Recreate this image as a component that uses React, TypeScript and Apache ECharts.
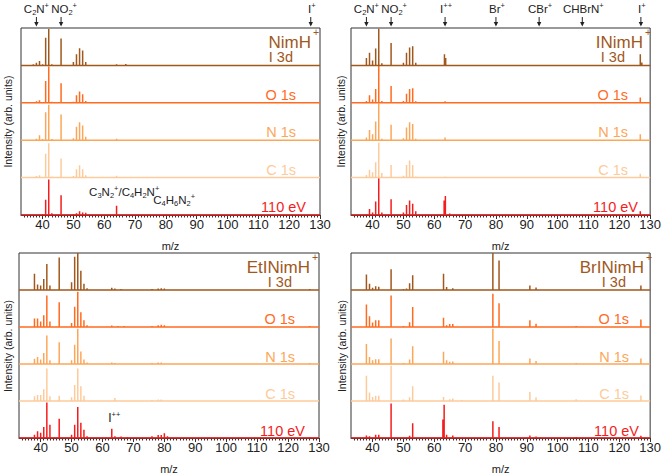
import React, { useEffect, useRef } from 'react';
import * as echarts from 'echarts';

const X_MIN = 33;
const X_MAX = 130;
const majorTicks = [40, 50, 60, 70, 80, 90, 100, 110, 120, 130];
const rowLabels = ['I 3d', 'O 1s', 'N 1s', 'C 1s', '110 eV'];
const rowColors = ['#a0581d', '#ff6b1f', '#fba75a', '#fdcb9b', '#f41d1d'];
const panelTitles = ['NimH', 'INimH', 'EtINimH', 'BrINimH'];

// [m/z, relative height within its row]
const nimhI3d = [[37, 0.03], [38, 0.07], [39, 0.12], [40, 0.03], [41, 0.74], [42, 0.97], [43, 0.03], [46, 0.72], [50, 0.09], [51, 0.3], [52, 0.46], [53, 0.4], [54, 0.09], [56, 0.02], [64, 0.03], [67, 0.04]];
const nimhO1s = [[38, 0.04], [39, 0.07], [41, 0.58], [42, 0.97], [43, 0.03], [46, 0.52], [50, 0.03], [51, 0.2], [52, 0.3], [53, 0.23], [54, 0.05], [64, 0.02]];
const nimhN1s = [[38, 0.04], [39, 0.13], [40, 0.03], [41, 0.75], [42, 0.95], [43, 0.03], [46, 0.69], [50, 0.05], [51, 0.36], [52, 0.48], [53, 0.39], [54, 0.09], [64, 0.04], [65, 0.02], [66, 0.02]];
const nimhC1s = [[38, 0.04], [39, 0.06], [41, 0.64], [42, 0.92], [43, 0.03], [46, 0.51], [50, 0.04], [51, 0.22], [52, 0.33], [53, 0.22], [54, 0.06], [64, 0.05]];
const nimh110 = [[40, 0.03], [41, 0.41], [42, 0.95], [43, 0.05], [46, 0.53], [50, 0.03], [51, 0.05], [52, 0.1], [53, 0.07], [54, 0.06], [64, 0.25]];

const inimhI3d = [[38, 0.2], [39, 0.34], [40, 0.13], [41, 0.45], [42, 0.98], [43, 0.06], [46, 0.6], [50, 0.07], [51, 0.34], [52, 0.48], [53, 0.51], [54, 0.07], [63.3, 0.3], [63.7, 0.2], [126.8, 0.3], [127.3, 0.08]];
const inimhO1s = [[38, 0.05], [39, 0.2], [40, 0.09], [41, 0.37], [42, 1.0], [43, 0.05], [46, 0.45], [50, 0.05], [51, 0.24], [52, 0.37], [53, 0.39], [54, 0.04], [63.5, 0.04], [126.8, 0.14]];
const inimhN1s = [[38, 0.07], [39, 0.27], [40, 0.16], [41, 0.5], [42, 0.98], [43, 0.04], [46, 0.41], [50, 0.05], [51, 0.34], [52, 0.48], [53, 0.43], [54, 0.04], [63.5, 0.07], [126.8, 0.16]];
const inimhC1s = [[38, 0.07], [39, 0.21], [40, 0.14], [41, 0.41], [42, 0.93], [43, 0.12], [46, 0.34], [50, 0.05], [51, 0.34], [52, 0.46], [53, 0.34], [54, 0.03], [63.5, 0.03], [126.8, 0.1]];
const inimh110 = [[38, 0.03], [39, 0.16], [40, 0.07], [41, 0.36], [42, 0.98], [43, 0.07], [46, 0.42], [50, 0.07], [51, 0.27], [52, 0.39], [53, 0.3], [54, 0.1], [63.2, 0.39], [63.6, 0.51], [65, 0.04], [79, 0.02], [81, 0.02], [126.8, 0.1]];

const etinimhI3d = [[38, 0.44], [39, 0.15], [40, 0.12], [41, 0.3], [42, 0.7], [43, 0.12], [46, 0.88], [50, 0.21], [51, 0.9], [52, 1.0], [53, 0.52], [54, 0.17], [55, 0.05], [63, 0.06], [64, 0.04], [66, 0.03], [76, 0.03], [78, 0.04], [79, 0.05], [80, 0.04], [127, 0.03]];
const etinimhO1s = [[38, 0.23], [39, 0.23], [40, 0.15], [41, 0.32], [42, 0.85], [43, 0.15], [46, 0.67], [50, 0.11], [51, 0.55], [52, 0.95], [53, 0.4], [54, 0.18], [55, 0.05], [63, 0.04], [65, 0.03], [67, 0.03], [76, 0.03], [78, 0.05], [79, 0.06], [80, 0.05], [127, 0.03]];
const etinimhN1s = [[38, 0.14], [39, 0.19], [40, 0.12], [41, 0.3], [42, 0.77], [43, 0.1], [46, 0.59], [50, 0.1], [51, 0.52], [52, 0.95], [53, 0.34], [54, 0.12], [55, 0.04], [63, 0.04], [64, 0.03], [76, 0.03], [78, 0.04], [79, 0.04], [127, 0.03]];
const etinimhC1s = [[38, 0.13], [39, 0.16], [40, 0.16], [41, 0.32], [42, 0.88], [43, 0.13], [46, 0.14], [50, 0.1], [51, 0.43], [52, 0.88], [53, 0.4], [54, 0.14], [64, 0.08], [76, 0.03], [78, 0.04], [79, 0.04]];
const etinimh110 = [[38, 0.09], [39, 0.18], [40, 0.14], [41, 0.3], [42, 0.96], [43, 0.36], [46, 0.52], [50, 0.09], [51, 0.36], [52, 0.84], [53, 0.41], [54, 0.22], [55, 0.05], [63, 0.25], [64, 0.05], [66, 0.04], [68, 0.03], [76, 0.05], [78, 0.08], [79, 0.08], [80, 0.13], [81, 0.05], [127, 0.03]];

const brinimhI3d = [[38, 0.42], [39, 0.17], [40, 0.06], [41, 0.1], [42, 0.09], [46, 0.56], [50, 0.03], [51, 0.04], [52, 0.18], [53, 0.4], [63, 0.44], [64, 0.08], [66, 0.05], [79, 1.0], [81, 0.8], [91, 0.12], [93, 0.07], [127, 0.12]];
const brinimhO1s = [[38, 0.61], [39, 0.29], [40, 0.12], [41, 0.18], [42, 0.18], [46, 0.85], [50, 0.03], [52, 0.13], [53, 0.54], [63, 0.25], [64, 0.05], [65, 0.08], [66, 0.08], [69, 0.02], [79, 0.9], [81, 0.64], [91, 0.18], [93, 0.09], [106, 0.03], [127, 0.2]];
const brinimhN1s = [[38, 0.54], [39, 0.19], [40, 0.1], [41, 0.13], [42, 0.13], [46, 0.69], [50, 0.03], [52, 0.12], [53, 0.48], [63, 0.33], [64, 0.1], [65, 0.06], [66, 0.07], [79, 0.95], [81, 0.62], [91, 0.15], [93, 0.08], [106, 0.03], [108, 0.02], [127, 0.15]];
const brinimhC1s = [[38, 0.68], [39, 0.23], [40, 0.11], [41, 0.14], [42, 0.14], [46, 0.95], [50, 0.04], [52, 0.1], [53, 0.4], [63, 0.11], [65, 0.05], [66, 0.07], [69, 0.03], [79, 0.68], [81, 0.5], [91, 0.24], [93, 0.1], [106, 0.05], [127, 0.15]];
const brinimh110 = [[38, 0.07], [39, 0.05], [41, 0.09], [42, 0.09], [46, 0.93], [52, 0.06], [53, 0.4], [62.8, 0.5], [63.2, 0.9], [64, 0.09], [66, 0.07], [79, 0.45], [81, 0.3], [91, 0.07], [93, 0.04], [106, 0.03], [127, 0.06]];

const panelSpectra = [
  [nimhI3d, nimhO1s, nimhN1s, nimhC1s, nimh110],
  [inimhI3d, inimhO1s, inimhN1s, inimhC1s, inimh110],
  [etinimhI3d, etinimhO1s, etinimhN1s, etinimhC1s, etinimh110],
  [brinimhI3d, brinimhO1s, brinimhN1s, brinimhC1s, brinimh110],
];

// top annotations: [m/z, label] ({s|..} subscript, {p|..} superscript)
const topMarksLeft: [number, string][] = [[38, 'C{s|2}N{p|+}'], [46, 'NO{s|2}{p|+}'], [127, 'I{p|+}']];
const topMarksRight: [number, string][] = [[38, 'C{s|2}N{p|+}'], [46, 'NO{s|2}{p|+}'], [63.5, 'I{p|++}'], [80, 'Br{p|+}'], [94, 'CBr{p|+}'], [108, 'CHBrN{p|+}'], [127, 'I{p|+}']];
const labelShift: Record<string, number> = { 'C{s|2}N{p|+}': -1, 'NO{s|2}{p|+}': 2 };

const FONT = 'Liberation Sans, Arial, DejaVu Sans, sans-serif';
const grids = [
  { left: 21, top: 28, width: 299, height: 187 },
  { left: 351, top: 28, width: 301, height: 187 },
  { left: 19, top: 253, width: 300, height: 186 },
  { left: 351, top: 253, width: 302, height: 186 },
];
const yLabelX = [8, 341, 8, 342];

function spectrum(peaks: number[][], offset: number) {
  const pts: number[][] = [[X_MIN, offset]];
  peaks.forEach(([m, h]) => {
    pts.push([m, offset], [m, offset + h], [m, offset]);
  });
  pts.push([X_MAX, offset]);
  return pts;
}

function txt(x: number, y: number, text: string, fontSize: number, fill: string, align = 'center', vAlign = 'middle', extra: any = {}, styleExtra: any = {}) {
  return {
    type: 'text',
    x,
    y,
    silent: true,
    z: 100,
    ...extra,
    style: {
      text,
      fill,
      fontSize,
      fontFamily: FONT,
      align,
      verticalAlign: vAlign,
      textAlign: align,
      textVerticalAlign: vAlign,
      ...styleExtra,
    },
  };
}

function richStyle(subSize: number, fill: string) {
  return {
    lineHeight: 15,
    rich: {
      s: { fontSize: subSize, lineHeight: subSize + 1, verticalAlign: 'bottom', fill, fontFamily: FONT },
      p: { fontSize: subSize, lineHeight: subSize + 1, verticalAlign: 'top', fill, fontFamily: FONT },
    },
  };
}

export default function App() {
  const ref = useRef<HTMLDivElement>(null);
  useEffect(() => {
    if (!ref.current) return;
    const chart = echarts.init(ref.current, null, { renderer: 'svg' });
    const minorTicks: number[] = [];
    for (let v = 34; v <= 130; v++) if (v % 10 !== 0) minorTicks.push(v);

    const xAxis: any[] = [];
    const yAxis: any[] = [];
    const series: any[] = [];
    grids.forEach((g, p) => {
      xAxis.push({
        gridIndex: p,
        type: 'value',
        min: X_MIN,
        max: X_MAX,
        position: 'bottom',
        axisLine: { show: true, lineStyle: { color: '#333', width: 1 } },
        axisTick: { show: true, customValues: majorTicks, length: 4, lineStyle: { color: '#333', width: 1 } },
        axisLabel: { show: true, customValues: majorTicks, margin: 3, fontSize: 13, color: '#222', fontFamily: FONT },
        splitLine: { show: false },
        name: 'm/z',
        nameLocation: 'middle',
        nameGap: 25,
        nameTextStyle: { fontSize: 11, color: '#222', fontFamily: FONT },
      });
      xAxis.push({
        gridIndex: p,
        type: 'value',
        min: X_MIN,
        max: X_MAX,
        position: 'bottom',
        axisLine: { show: false },
        axisTick: { show: true, customValues: minorTicks, length: 2.5, lineStyle: { color: '#333', width: 1 } },
        axisLabel: { show: false },
        splitLine: { show: false },
      });
      yAxis.push({ gridIndex: p, type: 'value', min: 0, max: 5, show: false });
      panelSpectra[p].forEach((peaks, r) => {
        series.push({
          type: 'line',
          xAxisIndex: 2 * p,
          yAxisIndex: p,
          data: spectrum(peaks, 4 - r),
          symbol: 'none',
          showSymbol: false,
          silent: true,
          z: 3 + (5 - r),
          lineStyle: { color: rowColors[r], width: 1.5 },
        });
      });
    });

    chart.setOption({
      animation: false,
      grid: grids.map((g) => ({ ...g, show: true, borderColor: '#333', borderWidth: 1, backgroundColor: 'transparent' })),
      xAxis,
      yAxis,
      series,
    });

    const graphic: any[] = [];
    grids.forEach((g, p) => {
      const right = g.left + g.width;
      const rowH = g.height / 5;
      graphic.push(txt(yLabelX[p], g.top + g.height / 2, 'Intensity (arb. units)', 10.5, '#222', 'center', 'middle', { rotation: Math.PI / 2 }));
      graphic.push(txt(right - 9, g.top + 14, panelTitles[p], 17, rowColors[0], 'right', 'middle'));
      graphic.push(txt(right - 4, g.top + 3.5, '+', 10.5, rowColors[0], 'center', 'middle'));
      const rightOff = [27, 24, 24, 24, 14];
      rowLabels.forEach((lab, r) => {
        const base = g.top + rowH * (r + 1);
        graphic.push(txt(right - rightOff[r], base - 8, lab, 14.5, rowColors[r], 'right', 'middle'));
      });
    });

    const addMarks = (p: number, marks: [number, string][]) => {
      marks.forEach(([m, lab]) => {
        const pt = chart.convertToPixel({ gridIndex: p } as any, [m, 5]) as number[];
        const x = pt[0];
        const top = pt[1];
        graphic.push(txt(x + 1 + (labelShift[lab] || 0), top - 19, lab, 11.5, '#222', 'center', 'middle', {}, richStyle(7.5, '#222')));
        graphic.push({ type: 'line', silent: true, shape: { x1: x, y1: top - 11, x2: x, y2: top - 3 }, style: { stroke: '#222', lineWidth: 1 } });
        graphic.push({ type: 'polygon', silent: true, shape: { points: [[x - 2.2, top - 6], [x + 2.2, top - 6], [x, top - 1.5]] }, style: { fill: '#222' } });
      });
    };
    addMarks(0, topMarksLeft);
    addMarks(1, topMarksRight);

    // in-panel annotations
    const a1 = chart.convertToPixel({ gridIndex: 0 } as any, [55.1, 0.62]) as number[];
    graphic.push(txt(a1[0], a1[1], 'C{s|3}N{s|2}{p|+}/C{s|4}H{s|2}N{p|+}', 11.5, '#222', 'left', 'middle', {}, richStyle(7.5, '#222')));
    const a2 = chart.convertToPixel({ gridIndex: 0 } as any, [75.9, 0.4]) as number[];
    graphic.push(txt(a2[0], a2[1], 'C{s|4}H{s|6}N{s|2}{p|+}', 11.5, '#222', 'left', 'middle', {}, richStyle(7.5, '#222')));
    const a3 = chart.convertToPixel({ gridIndex: 2 } as any, [63.8, 0.55]) as number[];
    graphic.push(txt(a3[0], a3[1], 'I{p|++}', 12, '#222', 'center', 'middle', {}, richStyle(7.5, '#222')));

    chart.setOption({ graphic });

    return () => chart.dispose();
  }, []);
  return <div ref={ref} style={{ position: 'fixed', left: 0, top: 0, width: 664, height: 475, background: '#fff' }} />;
}
